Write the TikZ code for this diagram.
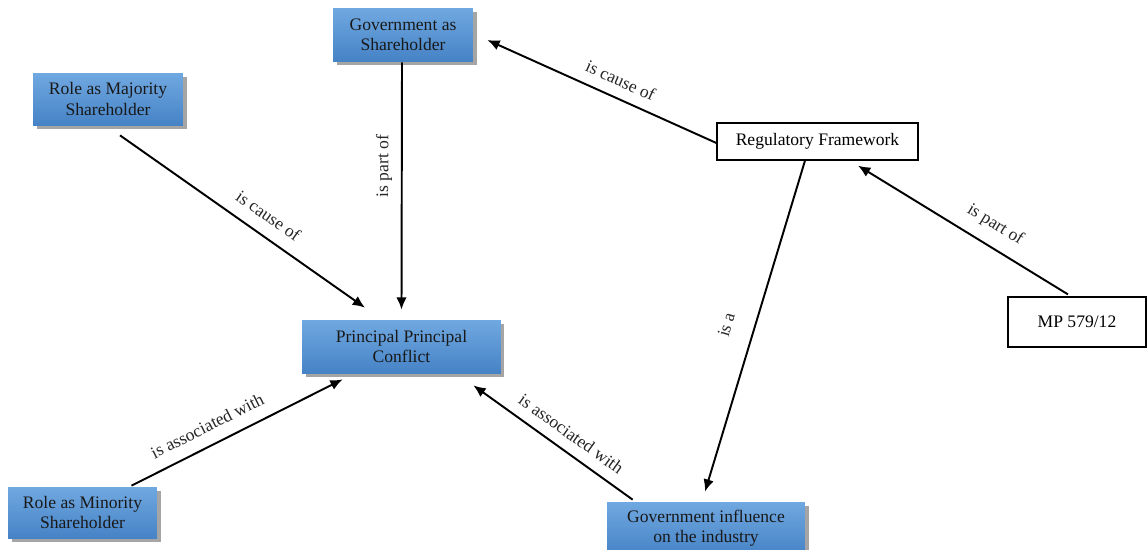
\documentclass[tikz,border=0pt]{standalone}
\usepackage{fontspec}
\setmainfont{Liberation Serif}
\usetikzlibrary{shadows,arrows.meta,calc}
\definecolor{boxtop}{HTML}{70A8E0}
\definecolor{boxbot}{HTML}{4683C6}
\tikzset{
  bluebox/.style={rectangle, top color=boxtop, bottom color=boxbot, align=center, inner sep=0pt,
    font=\fontsize{10}{11.5}\selectfont, text=black!90,
    drop shadow={shadow xshift=2pt, shadow yshift=-2pt, opacity=0.5, fill=black!70}},
  whitebox/.style={rectangle, draw=black, line width=0.7pt, fill=white, align=center, inner sep=0pt,
    font=\fontsize{10}{11.5}\selectfont},
  link/.style={-{Latex[length=7pt,width=6pt]}, line width=1.1pt},
  rel/.style={sloped, inner sep=1pt, font=\fontsize{10}{11.5}\selectfont, text=black!85}
}
\begin{document}
\begin{tikzpicture}[x=0.02cm,y=-0.02cm]
  \useasboundingbox (0,0) rectangle (1147,549);
  \node[bluebox, minimum width=2.8cm, minimum height=1.06cm] (gs) at (403,34.5) {Government as\\Shareholder};
  \node[bluebox, minimum width=3.0cm, minimum height=1.04cm] (maj) at (108,99) {Role as Majority\\Shareholder};
  \node[bluebox, minimum width=3.98cm, minimum height=1.06cm] (ppc) at (401.5,346.5) {Principal Principal\\Conflict};
  \node[whitebox, minimum width=4.02cm, minimum height=0.74cm] (reg) at (817.5,141.5) {Regulatory Framework};
  \node[whitebox, minimum width=2.76cm, minimum height=1.0cm] (mp) at (1077,322) {MP 579/12};
  \node[bluebox, minimum width=2.98cm, minimum height=1.02cm] (mino) at (82.5,512.5) {Role as Minority\\Shareholder};
  \node[bluebox, minimum width=3.96cm, minimum height=1.06cm] (gi) at (706,528.5) {Government influence\\on the industry};

  \draw[link] ($(gs.south)+(-1,1)$) -- ($(ppc.north)+(0,-10)$)
    node[rel, pos=0.42, above=4pt] {is part of};
  \draw[link] ($(maj.south)+(12,10)$) -- ($(ppc.north)+(-36.5,-12)$)
    node[rel, pos=0.56, above=6pt] {is cause of};
  \draw[link] ($(reg.west)+(0,1.5)$) -- ($(gs.east)+(14,5.5)$)
    node[rel, pos=0.45, above=5pt] {is cause of};
  \draw[link] ($(mp.north)+(-9,-2)$) -- ($(reg.south)+(40.5,5)$)
    node[rel, pos=0.40, above=6pt] {is part of};
  \draw[link] ($(reg.south)+(-12.5,0)$) -- ($(gi.north)+(-1,-10)$)
    node[rel, pos=0.52, above=11pt] {is a};
  \draw[link] ($(mino.north)+(49,-1)$) -- ($(ppc.south west)+(41,6)$)
    node[rel, pos=0.40, above=6pt] {is associated with};
  \draw[link] ($(gi.north west)+(26,-2)$) -- ($(ppc.south east)+(-28,12)$)
    node[rel, pos=0.45, above=5pt] {is associated with};
\end{tikzpicture}
\end{document}
